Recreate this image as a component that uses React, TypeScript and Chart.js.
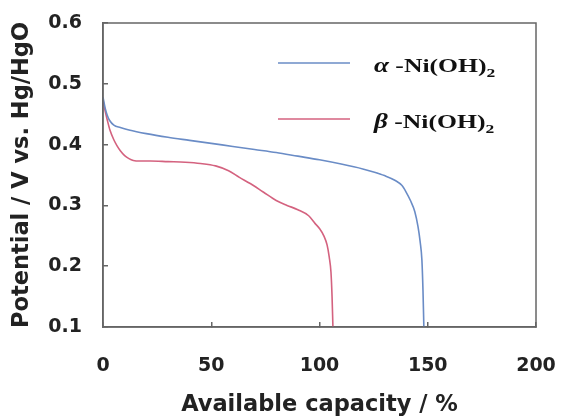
import React, { useEffect, useRef } from "react";
import { Chart, registerables } from "chart.js";

Chart.register(...registerables);

// ---- Data ----
const alphaCapacity = [0, 1, 2, 3, 5, 8, 12, 20, 30, 40, 50, 60, 70, 80, 90, 100, 110, 120, 125, 130, 135, 138, 140, 142, 144, 145.5, 146.5, 147.3, 147.8, 148.2];
const alphaPotential = [0.478, 0.46, 0.448, 0.44, 0.432, 0.428, 0.424, 0.418, 0.412, 0.407, 0.402, 0.397, 0.392, 0.387, 0.381, 0.375, 0.368, 0.36, 0.355, 0.349, 0.341, 0.333, 0.322, 0.308, 0.29, 0.265, 0.24, 0.21, 0.16, 0.1];

const betaCapacity = [0, 1, 2, 3.2, 5, 6.5, 8, 10, 12, 14, 17, 22, 30, 38, 45, 52, 58, 63, 68, 74, 80, 85, 90, 95, 98, 100, 102, 103.5, 104.5, 105.3, 105.8, 106.2];
const betaPotential = [0.473, 0.455, 0.44, 0.424, 0.408, 0.398, 0.39, 0.382, 0.377, 0.374, 0.373, 0.373, 0.372, 0.371, 0.369, 0.365, 0.357, 0.346, 0.336, 0.322, 0.308, 0.3, 0.293, 0.283, 0.27, 0.262, 0.25, 0.235, 0.215, 0.19, 0.15, 0.1];

const seriesGreek = ["α", "β"];
const seriesLabel = [" -Ni(OH)", " -Ni(OH)"];
const seriesSub = ["2", "2"];
const seriesColors = ["#6a8cc6", "#d4627f"];

const xTitle = "Available capacity / %";
const yTitle = "Potential / V vs. Hg/HgO";

const toPoints = (xs: number[], ys: number[]) => xs.map((x, i) => ({ x, y: ys[i] }));

const framePlugin = {
  id: "frame",
  afterDraw(chart: any) {
    const { ctx, chartArea } = chart;
    ctx.save();
    ctx.strokeStyle = "#666";
    ctx.lineWidth = 1.5;
    ctx.strokeRect(chartArea.left, chartArea.top, chartArea.right - chartArea.left, chartArea.bottom - chartArea.top);
    ctx.restore();
  },
};

const legendPlugin = {
  id: "customLegend",
  afterDraw(chart: any) {
    const { ctx, chartArea } = chart;
    ctx.save();
    chart.data.datasets.forEach((ds: any, i: number) => {
      const ly = chartArea.top + 40 + i * 56;
      const x1 = chartArea.left + 175;
      const x2 = chartArea.left + 247;
      ctx.strokeStyle = ds.borderColor;
      ctx.lineWidth = 1.5;
      ctx.beginPath();
      ctx.moveTo(x1, ly);
      ctx.lineTo(x2, ly);
      ctx.stroke();

      const tx = chartArea.left + 271;
      const baseline = ly + 9;
      ctx.save();
      ctx.translate(tx, baseline);
      ctx.scale(1.35, 1);
      ctx.fillStyle = "#111";
      ctx.textBaseline = "alphabetic";
      ctx.textAlign = "left";
      ctx.font = "italic bold 20px 'Liberation Serif'";
      ctx.fillText(seriesGreek[i], 0, 0);
      let cx = ctx.measureText(seriesGreek[i]).width;
      ctx.font = "bold 19px 'Liberation Serif'";
      ctx.fillText(seriesLabel[i], cx, 0);
      cx += ctx.measureText(seriesLabel[i]).width;
      ctx.font = "bold 13px 'Liberation Serif'";
      ctx.fillText(seriesSub[i], cx, 5);
      ctx.restore();
    });
    ctx.restore();
  },
};

export default function App() {
  const canvasRef = useRef<HTMLCanvasElement | null>(null);

  useEffect(() => {
    document.body.style.margin = "0";
    const canvas = canvasRef.current;
    if (!canvas) return;
    const tickFont = { family: "'DejaVu Sans'", weight: "bold" as const, size: 19 };
    const titleFont = { family: "'DejaVu Sans'", weight: "bold" as const, size: 22.5 };
    const chart = new Chart(canvas, {
      type: "line",
      data: {
        datasets: [
          {
            label: "α-Ni(OH)2",
            data: toPoints(alphaCapacity, alphaPotential),
            borderColor: seriesColors[0],
            borderWidth: 1.6,
            pointRadius: 0,
            cubicInterpolationMode: "monotone",
            fill: false,
          },
          {
            label: "β-Ni(OH)2",
            data: toPoints(betaCapacity, betaPotential),
            borderColor: seriesColors[1],
            borderWidth: 1.6,
            pointRadius: 0,
            cubicInterpolationMode: "monotone",
            fill: false,
          },
        ],
      },
      options: {
        animation: false,
        responsive: false,
        devicePixelRatio: 1,
        layout: { padding: { top: 23, right: 25, left: 0, bottom: 0 } },
        plugins: { legend: { display: false }, tooltip: { enabled: false } },
        scales: {
          x: {
            type: "linear",
            min: 0,
            max: 200,
            ticks: { stepSize: 50, font: tickFont, color: "#222", padding: 33, maxRotation: 0 },
            grid: { drawOnChartArea: false, tickLength: -5, color: "#666", lineWidth: 1.5 },
            border: { color: "#666", width: 1.5 },
            title: { display: true, text: xTitle, font: titleFont, color: "#222", padding: { top: 0, bottom: 0 } },
            afterFit(s: any) {
              s.height = 92;
              s.paddingLeft = 0;
              s.paddingRight = 0;
            },
          },
          y: {
            type: "linear",
            min: 0.1,
            max: 0.6,
            ticks: {
              stepSize: 0.1,
              font: tickFont,
              color: "#222",
              padding: 26,
              callback: (v: any) => Number(v).toFixed(1),
            },
            grid: { drawOnChartArea: false, tickLength: -5, color: "#666", lineWidth: 1.5 },
            border: { color: "#666", width: 1.5 },
            title: { display: true, text: yTitle, font: titleFont, color: "#222", padding: { top: 9, bottom: 0 } },
            afterFit(s: any) {
              s.width = 103;
              s.paddingTop = 0;
              s.paddingBottom = 0;
            },
          },
        },
      },
      plugins: [framePlugin, legendPlugin],
    });
    return () => chart.destroy();
  }, []);

  return (
    <div style={{ position: "absolute", left: 0, top: 0, width: 561, height: 419, background: "#fff" }}>
      <canvas ref={canvasRef} width={561} height={419} />
    </div>
  );
}
